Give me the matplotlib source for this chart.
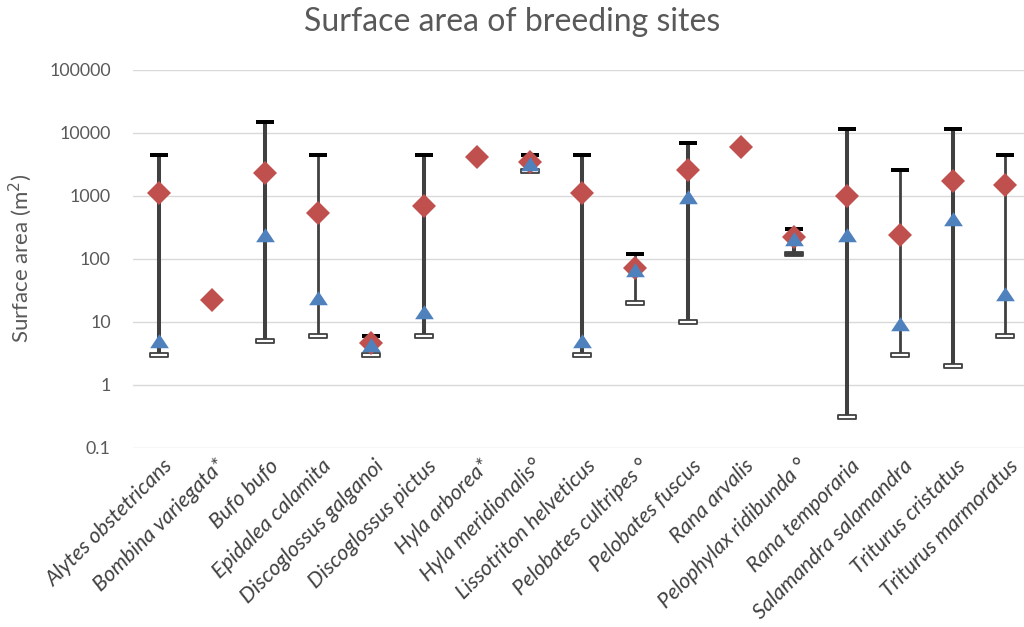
import numpy as np
import matplotlib
matplotlib.use("Agg")
import matplotlib.pyplot as plt
from matplotlib.path import Path
import matplotlib.transforms as mtransforms

species = ["Alytes obstetricans", "Bombina variegata*", "Bufo bufo", "Epidalea calamita",
           "Discoglossus galganoi", "Discoglossus pictus", "Hyla arborea*", "Hyla meridionalis°",
           "Lissotriton helveticus", "Pelobates cultripes °", "Pelobates fuscus", "Rana arvalis",
           "Pelophylax ridibunda °", "Rana temporaria", "Salamandra salamandra",
           "Triturus cristatus", "Triturus marmoratus"]
nan = np.nan
max_vals = [4500, nan, 15000, 4500, 6, 4500, nan, 4500, 4500, 120, 7000, nan, 300, 11500, 2600, 11500, 4500]
min_vals = [3, nan, 5, 6, 3, 6, nan, 2500, 3, 20, 10, nan, 120, 0.3, 3, 2, 6]
mean_vals = [1120, 22.5, 2300, 530, 4.6, 700, 4150, 3500, 1100, 70, 2600, 6000, 220, 980, 240, 1700, 1480]
median_vals = [5, nan, 240, 24, 4.2, 14, nan, 3150, 5, 66, 950, nan, 205, 240, 9.3, 430, 28]
thin_bar = [False, False, False, True, False, False, False, False, False, True, False, False,
            False, False, True, False, True]
yticks = [0.1, 1, 10, 100, 1000, 10000, 100000]
ytick_labels = ["0.1", "1", "10", "100", "1000", "10000", "100000"]

plt.rcParams['font.family'] = ['Lato', 'DejaVu Sans']

fig = plt.figure(figsize=(10.24, 6.27), dpi=100)
ax = fig.add_axes([133/1024, 1-447.5/627, (1024-133)/1024, (447.5-70)/627])
ax.set_yscale('log')
ax.set_ylim(0.1, 100000)
ax.set_xlim(-0.5, 16.35)

x = np.arange(len(species))

line_col = '#404040'
for i in range(len(species)):
    if np.isnan(max_vals[i]):
        continue
    lw = 2.0 if thin_bar[i] else 2.9
    ax.plot([x[i], x[i]], [min_vals[i], max_vals[i]], color=line_col, lw=lw,
            solid_capstyle='butt', zorder=2)

# upper caps
cap_path = Path([(-1, -0.2), (1, -0.2), (1, 0.2), (-1, 0.2), (-1, -0.2)],
                [Path.MOVETO, Path.LINETO, Path.LINETO, Path.LINETO, Path.CLOSEPOLY])
ax.plot(x, max_vals, linestyle='none', marker=cap_path, markersize=13,
        color='black', markeredgewidth=0, zorder=3)

# lower caps (hollow)
low_path = Path([(-1, -0.2), (1, -0.2), (1, 0.2), (-1, 0.2), (-1, -0.2)],
                [Path.MOVETO, Path.LINETO, Path.LINETO, Path.LINETO, Path.CLOSEPOLY])
low_face = ['#404040' if m == 300 else 'white' for m in max_vals]
for i in range(len(species)):
    if np.isnan(min_vals[i]):
        continue
    ax.plot([x[i]], [min_vals[i]], linestyle='none', marker=low_path, markersize=13,
            markerfacecolor=low_face[i], markeredgecolor='#404040', markeredgewidth=1.3, zorder=3)

ax.plot(x, mean_vals, linestyle='none', marker='D', markersize=12,
        color='#C0504D', markeredgewidth=0, zorder=4)

tri_path = Path([(0, 0.78), (-1, -0.72), (1, -0.72), (0, 0.78)],
                [Path.MOVETO, Path.LINETO, Path.LINETO, Path.CLOSEPOLY])
ax.plot(x, median_vals, linestyle='none', marker=tri_path, markersize=13.5,
        color='#4F81BD', markeredgewidth=0, zorder=5)

ax.set_yticks(yticks)
ax.set_yticklabels(ytick_labels)
ax.yaxis.set_minor_locator(matplotlib.ticker.NullLocator())
ax.tick_params(axis='y', length=0, pad=16, labelsize=12.8, labelcolor='#595959')
ax.grid(axis='y', color='#D9D9D9', lw=1.0)
ax.set_axisbelow(True)
for s in ax.spines.values():
    s.set_visible(False)

ax.set_xticks(x)
ax.set_xticklabels(species, rotation=45, ha='right', va='top', rotation_mode='anchor',
                   fontstyle='italic', fontsize=15.5, color='#404040')
ax.tick_params(axis='x', length=0, pad=6)
offset = mtransforms.ScaledTranslation(3/100, 0, fig.dpi_scale_trans)
for lab in ax.get_xticklabels():
    lab.set_transform(lab.get_transform() + offset)

ax.set_ylabel('Surface area (m$^2$)', fontsize=16, color='#595959')
ax.yaxis.set_label_coords(-(133-34)/891, 0.5)
fig.text(0.5, 1-22/627, 'Surface area of breeding sites', ha='center', va='center',
         fontsize=23, color='#595959')

fig.savefig('out.png', dpi=100)
